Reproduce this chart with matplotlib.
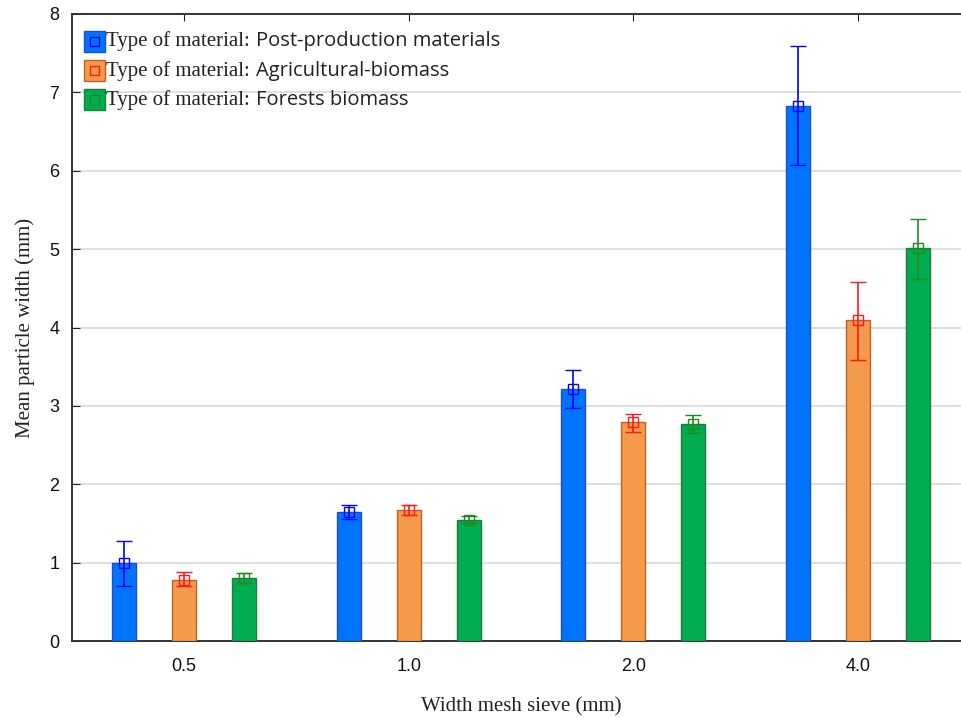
import numpy as np
import matplotlib
matplotlib.use('Agg')
import matplotlib.pyplot as plt
from matplotlib.patches import Rectangle
from matplotlib.offsetbox import (AnchoredOffsetbox, DrawingArea, HPacker,
                                  TextArea, VPacker)

# ==================== Data ====================
sieves = ['0.5', '1.0', '2.0', '4.0']
materials = ['Post-production materials', 'Agricultural-biomass', 'Forests biomass']

post_mean = [1.00, 1.64, 3.22, 6.82]
post_lo = [0.70, 1.56, 2.97, 6.07]
post_hi = [1.28, 1.73, 3.46, 7.59]

agri_mean = [0.78, 1.67, 2.79, 4.09]
agri_lo = [0.70, 1.61, 2.67, 3.59]
agri_hi = [0.88, 1.73, 2.90, 4.58]

forest_mean = [0.80, 1.55, 2.77, 5.01]
forest_lo = [0.74, 1.51, 2.66, 4.62]
forest_hi = [0.87, 1.60, 2.88, 5.39]

means = [post_mean, agri_mean, forest_mean]
lows = [post_lo, agri_lo, forest_lo]
highs = [post_hi, agri_hi, forest_hi]

# ==================== Styles ====================
face = ['#0074FF', '#F5994A', '#00AC4F']
edge = ['#1A4FD0', '#B8652A', '#1A7F3A']
err_col = ['#0000FF', '#FF1A1A', '#1E8C1E']

SANS = 'Liberation Sans'
SERIF = 'Liberation Serif'
LEG_SANS = 'Open Sans'

fig = plt.figure(figsize=(9.61, 7.18), dpi=100)
# axes run off the right edge of the canvas
ax = fig.add_axes([72 / 961, 1 - 641 / 718, 898 / 961, 627 / 718])

x = np.arange(len(sieves))
offset = 0.267
width = 0.107

for k in range(3):
    xpos = x + (k - 1) * offset
    m = np.array(means[k])
    ax.bar(xpos, m, width=width, color=face[k], edgecolor=edge[k],
           linewidth=1.0, zorder=3)
    yerr = [m - np.array(lows[k]), np.array(highs[k]) - m]
    ax.errorbar(xpos, m, yerr=yerr, fmt='s', mfc='none', mec=err_col[k],
                ms=7, mew=1.0, ecolor=err_col[k], elinewidth=1.2,
                capsize=6, capthick=1.2, zorder=4)

ax.set_xlim(-0.5, 3.5)
ax.set_ylim(0, 8)
ax.set_yticks(range(0, 9))
ax.set_xticks(x)
ax.set_xticklabels(sieves)
ax.grid(axis='y', color='#D9D9D9', linewidth=1.2, zorder=0)
ax.set_axisbelow(True)

ax.tick_params(axis='y', direction='in', length=6, width=0.8,
               labelsize=13, pad=9, colors='#222222')
ax.tick_params(axis='x', direction='in', length=5, width=0.8,
               labelsize=13, pad=12, top=True, colors='#222222')
for lab in ax.get_xticklabels() + ax.get_yticklabels():
    lab.set_fontfamily(SANS)
    lab.set_color('#111111')

for side in ['left', 'bottom', 'top']:
    ax.spines[side].set_linewidth(1.4)
    ax.spines[side].set_color('#333333')
ax.spines['right'].set_visible(False)

ax.set_ylabel('Mean particle width (mm)', fontfamily=SERIF, fontsize=15,
              labelpad=10, color='#222222')
ax.set_xlabel('Width mesh sieve (mm)', fontfamily=SERIF, fontsize=15,
              labelpad=16, color='#222222')

# ==================== Legend (mixed fonts) ====================
rows = []
for k in range(3):
    da = DrawingArea(15, 15, 0, 0)
    da.add_artist(Rectangle((0, 0), 15, 15, facecolor=face[k],
                            edgecolor=edge[k], linewidth=1.0))
    da.add_artist(Rectangle((4, 4), 7, 7, facecolor='none',
                            edgecolor=err_col[k], linewidth=1.0))
    t1 = TextArea('Type of material:',
                  textprops=dict(fontfamily=SERIF, fontsize=15, color='#222222'))
    t2 = TextArea(materials[k],
                  textprops=dict(fontfamily=LEG_SANS, fontsize=14.5, color='#222222'))
    label = HPacker(children=[t1, t2], align='baseline', pad=0, sep=4)
    rows.append(HPacker(children=[da, label], align='center', pad=0, sep=1))
box = VPacker(children=rows, align='left', pad=0, sep=6)
anch = AnchoredOffsetbox(loc='upper left', child=box, pad=0, frameon=False,
                         bbox_to_anchor=(84 / 961, 1 - 31 / 718),
                         bbox_transform=fig.transFigure, borderpad=0)
ax.add_artist(anch)

fig.savefig('out.png', dpi=100, facecolor='white')
